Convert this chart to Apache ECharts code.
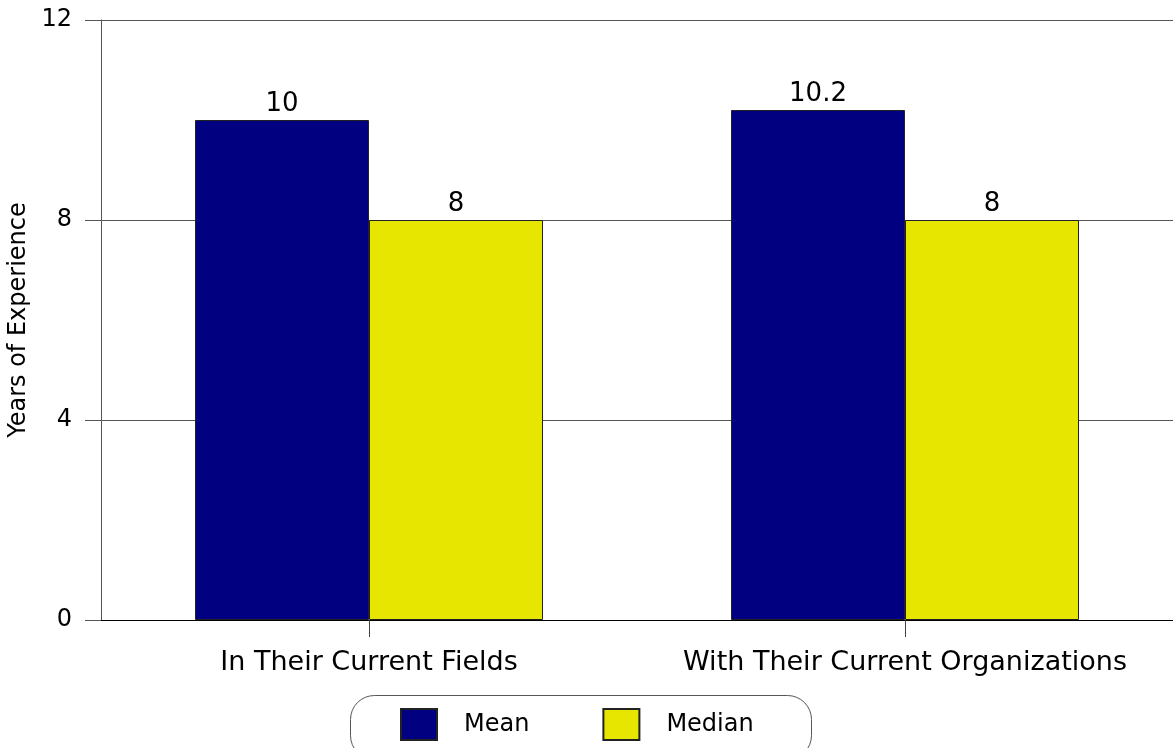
<!DOCTYPE html>
<html>
<head>
<meta charset="utf-8">
<script src="https://cdn.jsdelivr.net/npm/echarts@6/dist/echarts.min.js"></script>
<style>
  html, body { margin: 0; padding: 0; background: #ffffff; }
  #chart { width: 1173px; height: 748px; }
</style>
</head>
<body>
<div id="chart"></div>
<script>
// Years of experience, mean vs median
const categories = ['In Their Current Fields', 'With Their Current Organizations'];
const meanValues = [10, 10.2];
const medianValues = [8, 8];
const seriesNames = ['Mean', 'Median'];
const yTicks = { min: 0, max: 12, interval: 4 };

const FONT = 'DejaVu Sans';
const chart = echarts.init(document.getElementById('chart'), null, { renderer: 'canvas' });

const barLabel = {
  show: true,
  position: 'top',
  distance: 3,
  color: '#000000',
  fontFamily: FONT,
  fontSize: 26
};

chart.setOption({
  animation: false,
  backgroundColor: '#ffffff',
  grid: { left: 101, right: 0, top: 20, bottom: 128, containLabel: false, outerBoundsMode: 'none' },
  xAxis: {
    type: 'category',
    data: categories,
    axisLine: { show: true, lineStyle: { color: '#000000', width: 1 } },
    axisTick: { show: true, alignWithLabel: true, interval: 0, length: 17, lineStyle: { color: '#444444' } },
    axisLabel: { interval: 0, color: '#000000', fontFamily: FONT, fontSize: 27, margin: 29 },
    splitLine: { show: false }
  },
  yAxis: {
    type: 'value',
    min: yTicks.min,
    max: yTicks.max,
    interval: yTicks.interval,
    name: 'Years of Experience',
    nameLocation: 'middle',
    nameGap: 66,
    nameRotate: 90,
    nameTextStyle: { color: '#000000', fontFamily: FONT, fontSize: 24 },
    axisLine: { show: true, lineStyle: { color: '#555555', width: 1 } },
    axisTick: { show: true, inside: false, length: 16, lineStyle: { color: '#555555' } },
    axisLabel: { color: '#000000', fontFamily: FONT, fontSize: 24, margin: 29 },
    splitLine: { show: true, lineStyle: { color: '#555555', width: 1 } }
  },
  legend: {
    data: seriesNames,
    left: 395,
    top: 703,
    orient: 'horizontal',
    itemWidth: 36,
    itemHeight: 31,
    itemGap: 73,
    icon: 'rect',
    textStyle: { color: '#000000', fontFamily: FONT, fontSize: 24, padding: [0, 0, 0, 22] }
  },
  graphic: [{
    type: 'rect',
    z: -1,
    shape: { x: 350.5, y: 695.5, width: 461, height: 64, r: 24 },
    style: { fill: 'none', stroke: '#555555', lineWidth: 1 }
  }],
  series: [
    {
      name: seriesNames[0],
      type: 'bar',
      data: meanValues,
      barWidth: 174,
      barGap: '0%',
      itemStyle: { color: '#000080', borderColor: '#222222', borderWidth: 1 },
      label: barLabel
    },
    {
      name: seriesNames[1],
      type: 'bar',
      data: medianValues,
      barWidth: 174,
      barGap: '0%',
      itemStyle: { color: '#e6e600', borderColor: '#222222', borderWidth: 1 },
      label: barLabel
    }
  ]
});
</script>
</body>
</html>
